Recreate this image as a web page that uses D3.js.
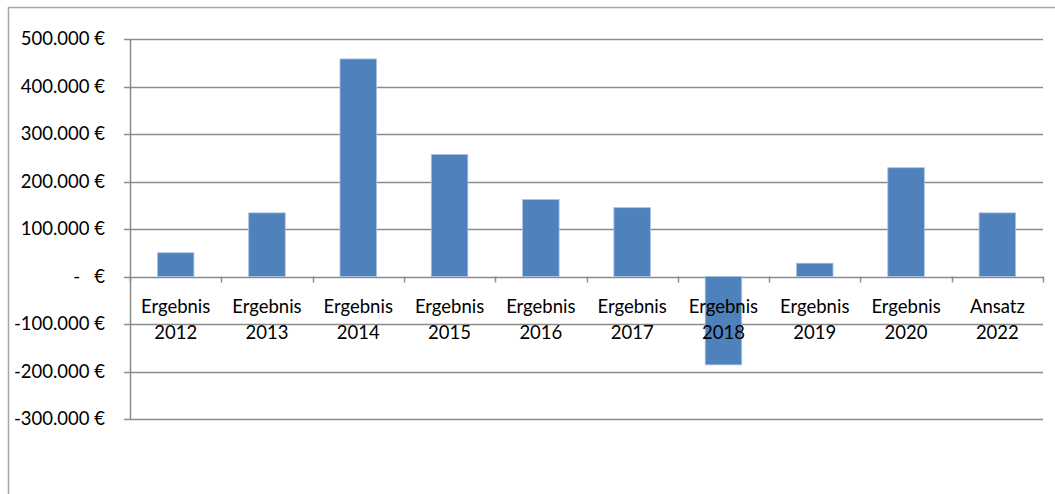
<!DOCTYPE html>
<html><head><meta charset="utf-8">
<script src="https://cdn.jsdelivr.net/npm/d3@7"></script>
<style>
html,body{margin:0;padding:0;background:#fff;}
svg text{font-family:Lato,"Open Sans",sans-serif;fill:#000;}
</style></head>
<body><svg id="chart" width="1055" height="494"></svg>
<script>
const categories = [["Ergebnis","2012"],["Ergebnis","2013"],["Ergebnis","2014"],["Ergebnis","2015"],["Ergebnis","2016"],["Ergebnis","2017"],["Ergebnis","2018"],["Ergebnis","2019"],["Ergebnis","2020"],["Ansatz","2022"]];
const values = [50000,134000,458000,257000,162000,145000,-186000,28000,229000,134000];
const tickValues = [500000,400000,300000,200000,100000,0,-100000,-200000,-300000];
const tickLabels = ["500.000 €","400.000 €","300.000 €","200.000 €","100.000 €","-   €","-100.000 €","-200.000 €","-300.000 €"];

(function(){
const svg = d3.select("#chart");
const mLeft = 130, mRight = 1043, mTop = 39, mBottom = 419;

// outer frame
svg.append("path").attr("d","M8.5,494 V7.5 H1055").attr("fill","none").attr("stroke","#a6a6a6").attr("stroke-width",1.5);

const y = d3.scaleLinear().domain([-300000,500000]).range([mBottom, mTop]);
const x = d3.scaleBand().domain(d3.range(categories.length)).range([mLeft, mRight]).paddingInner(0.6).paddingOuter(0.3);
const xb = d3.scaleBand().domain(d3.range(categories.length)).range([mLeft, mRight]);

// gridlines
svg.append("g").selectAll("line").data(tickValues).join("line")
  .attr("x1", mLeft-6).attr("x2", mRight)
  .attr("y1", d=>Math.round(y(d))+0.5).attr("y2", d=>Math.round(y(d))+0.5)
  .attr("stroke","#8c8c8c").attr("stroke-width",1.5);

// y axis line
svg.append("line").attr("x1",mLeft+0.5).attr("x2",mLeft+0.5).attr("y1",mTop).attr("y2",mBottom)
  .attr("stroke","#8c8c8c").attr("stroke-width",1.5);

// y labels
svg.append("g").selectAll("text").data(tickValues).join("text")
  .attr("x", 105).attr("y", d=>y(d)).attr("dy","0.35em")
  .attr("text-anchor","end").attr("font-size",18.5)
  .style("white-space","pre")
  .text((d,i)=>tickLabels[i]);

// bars
svg.append("g").selectAll("rect").data(values).join("rect")
  .attr("x",(d,i)=>x(i)).attr("width",x.bandwidth())
  .attr("y",d=>y(Math.max(0,d))).attr("height",d=>Math.abs(y(d)-y(0)))
  .attr("fill","#4f81bd").attr("stroke","#a9c3e3").attr("stroke-width",0.8);

// category ticks
const tickPos = d3.range(categories.length+1).map(i=> i<categories.length ? xb(i) : mRight);
svg.append("g").selectAll("line").data(tickPos).join("line")
  .attr("x1",d=>Math.round(d)+0.5).attr("x2",d=>Math.round(d)+0.5)
  .attr("y1",y(0)).attr("y2",y(0)+6)
  .attr("stroke","#8c8c8c").attr("stroke-width",1.5);

// category labels
const cl = svg.append("g").selectAll("text").data(categories).join("text")
  .attr("text-anchor","middle").attr("font-size",18.5);
cl.append("tspan").attr("x",(d,i)=>xb(i)+xb.bandwidth()/2).attr("y",y(0)+36).text(d=>d[0]);
cl.append("tspan").attr("x",(d,i)=>xb(i)+xb.bandwidth()/2).attr("y",y(0)+62).text(d=>d[1]);
})();
</script></body></html>
